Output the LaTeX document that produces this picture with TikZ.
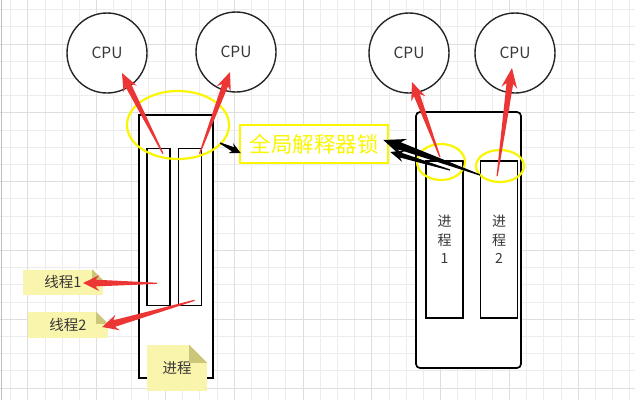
\documentclass[tikz,border=0pt]{standalone}
\usepackage{fontspec}
\setmainfont{Noto Sans CJK SC}
\usepackage{tikz}
\usetikzlibrary{shapes.geometric}
\usetikzlibrary{calc}
\usetikzlibrary{positioning}

\definecolor{gridminor}{RGB}{236,236,236}
\definecolor{gridmajor}{RGB}{222,222,222}
\definecolor{arrowred}{RGB}{236,54,54}
\definecolor{lockyellow}{RGB}{250,246,0}
\definecolor{notefill}{RGB}{250,245,172}
\definecolor{notefold}{RGB}{204,198,122}
\definecolor{textgray}{RGB}{55,55,55}

% tapered arrow: [fill] {tail} {tip} {head length} {head half width}
\newcommand{\fatarrow}[5][arrowred]{%
    \pgfmathsetlengthmacro\faneck{0.42*#5}%
    \path (#2) coordinate (fa-tail) (#3) coordinate (fa-tip);
    \path ($(fa-tip)!#4!(fa-tail)$) coordinate (fa-base)
          ($(fa-tip)!0.78!(fa-base)$) coordinate (fa-neck);
    \fill[#1] ($(fa-tail)!0.6pt!90:(fa-tip)$)
        -- ($(fa-neck)!\faneck!90:(fa-tip)$)
        -- ($(fa-base)!#5!90:(fa-tip)$)
        -- (fa-tip)
        -- ($(fa-base)!#5!-90:(fa-tip)$)
        -- ($(fa-neck)!\faneck!-90:(fa-tip)$)
        -- ($(fa-tail)!0.6pt!-90:(fa-tip)$)
        -- cycle;
}

\begin{document}
\begin{tikzpicture}[x=1pt, y=-1pt,
        cpu/.style={circle, draw=black!85, line width=1.4pt, fill=white,
                minimum size=80pt, text=textgray, font=\fontsize{15.5}{15.5}\selectfont},
        proc/.style={draw=black, line width=1.7pt, fill=white, inner sep=0pt},
        thread/.style={proc, line width=1.6pt, minimum height=157pt},
        lock/.style={ellipse, draw=lockyellow, line width=2.2pt, inner sep=0pt},
        note/.style={fill=notefill, inner sep=0pt, text=textgray,
                font=\fontsize{14.5}{14.5}\selectfont},
    ]

    \useasboundingbox (0,0) rectangle (635,400);
    \fill[white] (0,0) rectangle (635,400);

    % background grid
    \foreach \i in {0,...,36} {
        \draw[gridminor, line width=0.6pt] (10.5+17.2*\i,0) -- (10.5+17.2*\i,400);
    }
    \foreach \j in {0,...,22} {
        \draw[gridminor, line width=0.6pt] (0,9.5+17.2*\j) -- (635,9.5+17.2*\j);
    }
    \foreach \i in {1,5,...,37} {
        \draw[gridmajor, line width=0.7pt] (10.5+17.2*\i,0) -- (10.5+17.2*\i,400);
    }
    \foreach \j in {2,6,...,22} {
        \draw[gridmajor, line width=0.7pt] (0,9.5+17.2*\j) -- (635,9.5+17.2*\j);
    }
    \draw[black!25, line width=1.2pt] (1.5,0) -- (1.5,400);

    % left: one process, two threads
    \node[proc, minimum width=74pt, minimum height=263pt] (procL) at (176,246.5) {};
    \node[thread, minimum width=23pt] (thA) at (158.5,227) {};
    \node[thread, minimum width=23pt, right=7pt of thA] (thB) {};

    % right: two processes
    \node[proc, rounded corners=4pt, minimum width=105pt, minimum height=256pt] (procR) at (468.5,240) {};
    \node[thread, minimum width=37pt, align=center, text=textgray,
        font=\fontsize{14}{18.5}\selectfont] (prA) at (444.5,239.5) {进\\程\\1};
    \node[thread, minimum width=37pt, align=center, text=textgray,
        font=\fontsize{14}{18.5}\selectfont, right=16pt of prA] (prB) {进\\程\\2};

    \node[cpu] (cpuA) at (107,53) {CPU};
    \node[cpu] (cpuB) at (236,52) {CPU};
    \node[cpu] (cpuC) at (409,53) {CPU};
    \node[cpu] (cpuD) at (515,53) {CPU};

    \node[lock, minimum width=102pt, minimum height=68pt] (lockL) at (178,125) {};
    \node[lock, minimum width=48pt, minimum height=36pt] (lockA) at (441,162) {};
    \node[lock, minimum width=48pt, minimum height=32pt] (lockB) at (500,166) {};

    \node[draw=lockyellow, line width=2.6pt, fill=white, minimum width=148pt,
        minimum height=38pt, text=lockyellow, font=\fontsize{21.5}{21.5}\selectfont] (gil) at (314,144) {全局解释器锁};

    % notes
    \node[note, minimum width=80pt, minimum height=25pt] (noteA) at (63,282) {线程1};
    \node[note, minimum width=80pt, minimum height=26pt] (noteB) at (68,325) {线程2};
    \node[note, minimum width=60pt, minimum height=46pt] (noteP) at (177,368) {\raisebox{-3pt}{进程}};
    \foreach \n/\s in {noteA/11pt, noteB/12pt, noteP/18pt} {
        \fill[white] ([xshift=-\s]\n.north east) -- (\n.north east) -- ([yshift=-\s]\n.north east) -- cycle;
        \fill[notefold] ([xshift=-\s]\n.north east) -- ([xshift=-\s, yshift=-\s]\n.north east)
            -- ([yshift=-\s]\n.north east) -- cycle;
    }

    % arrow ends
    \coordinate (tA) at ($(thA.north)+(4.5,6)$);
    \coordinate (hA) at ($(cpuA.center)+(15,20)$);
    \coordinate (tB) at ($(thB.north)+(9.5,6)$);
    \coordinate (hB) at ($(cpuB.center)+(-6,20)$);
    \coordinate (tC) at ($(prA.north)+(-4.5,-3)$);
    \coordinate (hC) at ($(cpuC.center)+(3,29)$);
    \coordinate (tD) at ($(prB.north)+(-2,16)$);
    \coordinate (hD) at ($(cpuD.center)+(-3,15)$);
    \coordinate (tE) at ($(thA.south)+(-1.5,-23)$);
    \coordinate (hE) at ($(noteA.east)+(-20,1)$);
    \coordinate (tF) at ($(thB.south)+(4.5,-6)$);
    \coordinate (hF) at ($(noteB.east)+(-6,2)$);
    \coordinate (tG) at ($(lockL.center)+(42,18)$);
    \coordinate (hG) at ($(gil.west)+(2,9)$);
    \coordinate (tH) at ($(lockB.center)+(-20,9)$);
    \coordinate (hH) at ($(gil.east)+(-6,-4)$);
    \coordinate (tI) at ($(lockA.center)+(9,8)$);
    \coordinate (hI) at ($(gil.east)+(1,8)$);

    \fatarrow{tA}{hA}{18pt}{7.5pt}
    \fatarrow{tB}{hB}{18pt}{7.5pt}
    \fatarrow{tC}{hC}{18pt}{7.5pt}
    \fatarrow{tD}{hD}{20pt}{8pt}
    \fatarrow{tE}{hE}{16pt}{8pt}
    \fatarrow{tF}{hF}{16pt}{8pt}
    \fatarrow[black]{tG}{hG}{11pt}{5.5pt}
    \fatarrow[black]{tI}{hI}{14pt}{6pt}
    \fatarrow[black]{tH}{hH}{22pt}{9pt}
\end{tikzpicture}
\end{document}
